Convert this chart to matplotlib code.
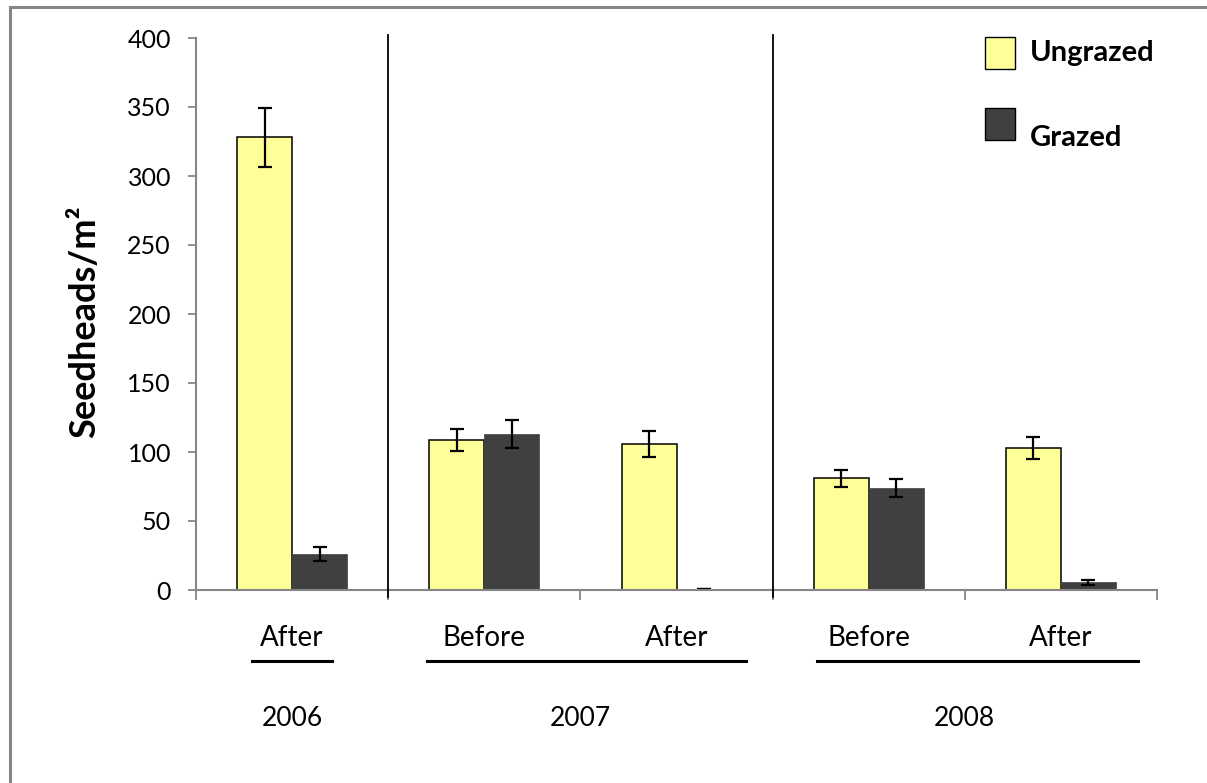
import numpy as np
import matplotlib.pyplot as plt
from matplotlib.patches import Rectangle
from matplotlib.lines import Line2D

plt.rcParams['font.family'] = ['Lato', 'DejaVu Sans']

# Seedhead counts per sampling (mean and standard error)
periods = ['After', 'Before', 'After', 'Before', 'After']
years = ['2006', '2007', '2008']
ungrazed = [328, 109, 106, 81, 103]
ungrazed_err = [21.5, 8, 9.5, 6, 8]
grazed = [26, 113, 0.7, 74, 5.5]
grazed_err = [5, 10, 0.3, 6.5, 2]

yellow = '#FFFF99'
dark = '#404040'
grey = '#868686'

W, H = 1207, 783
fig = plt.figure(figsize=(W / 100, H / 100), dpi=100)
ax = fig.add_axes([196 / W, 1 - 590 / H, 961 / W, 552 / H])

x = np.arange(len(periods))
bw = 0.286
ekw = dict(ecolor='black', elinewidth=1.6, capsize=5, capthick=1.6)
ax.bar(x - bw / 2, ungrazed, bw, color=yellow, edgecolor='black', linewidth=1.1,
       yerr=ungrazed_err, error_kw=ekw, zorder=2)
ax.bar(x + bw / 2, grazed, bw, color=dark, edgecolor=dark, linewidth=0.5,
       yerr=grazed_err, error_kw=ekw, zorder=2)

ax.set_xlim(-0.5, len(periods) - 0.5)
ax.set_ylim(0, 400)
ax.set_yticks(np.arange(0, 401, 50))
ax.tick_params(axis='y', direction='out', length=6, width=1.3, color=grey,
               labelsize=18, pad=12)

# category boundaries carry the ticks
ax.set_xticks(np.arange(-0.5, len(periods), 1.0))
ax.set_xticklabels([])
ax.tick_params(axis='x', direction='out', length=7, width=1.3, color=grey)

for side in ['top', 'right']:
    ax.spines[side].set_visible(False)
for side in ['left', 'bottom']:
    ax.spines[side].set_color(grey)
    ax.spines[side].set_linewidth(1.5)

# year separators
for xs in [0.5, 2.5]:
    ax.plot([xs, xs], [402, -5], color='black', lw=1.3, clip_on=False, zorder=3)

tr = ax.get_xaxis_transform()
for xi, p in zip(x, periods):
    ax.text(xi, -0.087, p, transform=tr, ha='center', va='center', fontsize=20)

# year underlines and labels
spans = [(-0.21, 0.21), (0.70, 2.36), (2.73, 4.40)]
centres = [0, 1.5, 3.5]
for (a, b), c, yr in zip(spans, centres, years):
    ax.plot([a, b], [-0.129, -0.129], transform=tr, color='black', lw=2.2,
            clip_on=False)
    ax.text(c, -0.232, yr, transform=tr, ha='center', va='center', fontsize=19)

fig.text(85 / W, 1 - 322 / H, 'Seedheads/m²', rotation=90, ha='center',
         va='center', fontsize=26, fontweight='bold')

# legend
for (lab, col, y0, y1, ty) in [('Ungrazed', yellow, 37, 69, 53),
                                ('Grazed', dark, 108, 140, 138)]:
    fig.patches.append(Rectangle((985 / W, 1 - y1 / H), 30 / W, (y1 - y0) / H,
                                 transform=fig.transFigure, facecolor=col,
                                 edgecolor='black', lw=1.0))
    fig.text(1030 / W, 1 - ty / H, lab, ha='left', va='center', fontsize=21,
             fontweight='bold')

# chart area frame
fig.add_artist(Line2D([10 / W, 10 / W], [0, 1 - 7 / H], color=grey, lw=2.2))
fig.add_artist(Line2D([10 / W, 1], [1 - 7 / H, 1 - 7 / H], color=grey, lw=2.2))

fig.savefig('out.png', dpi=100, facecolor='white')
